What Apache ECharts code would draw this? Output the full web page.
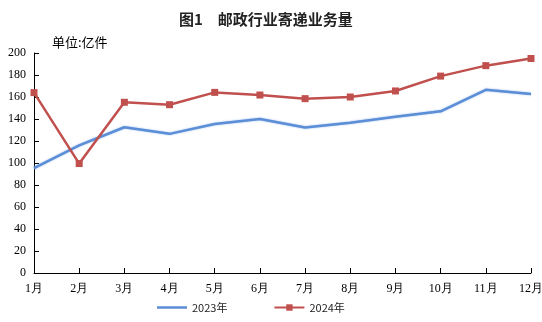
<!DOCTYPE html>
<html><head><meta charset="utf-8">
<script src="https://cdn.jsdelivr.net/npm/echarts@6/dist/echarts.min.js"></script>
<style>html,body{margin:0;padding:0;background:#fff}#c{width:542px;height:322px}</style>
</head><body><div id="c"></div>
<script>
const months = ['1月','2月','3月','4月','5月','6月','7月','8月','9月','10月','11月','12月'];
const s2023 = [95.3, 116, 132.5, 126.5, 135.5, 140, 132.3, 136.5, 142, 147, 166.5, 162.7];
const s2024 = [164, 99.5, 155.2, 153, 164.2, 161.8, 158.5, 160, 165.5, 179, 188.5, 195];
const chart = echarts.init(document.getElementById('c'));
const serif = '"Liberation Serif","Times New Roman",serif';
chart.setOption({
  animation:false,
  title:{text:'图1　邮政行业寄递业务量',left:174,top:7,
    textStyle:{fontFamily:'"Noto Sans CJK SC",sans-serif',fontSize:15,fontWeight:'bold',color:'#222'}},
  grid:{left:34,right:11,top:53,bottom:49,outerBoundsMode:'none',containLabel:false},
  legend:{bottom:4,left:152,itemGap:46,itemWidth:30,itemHeight:8,
    textStyle:{fontFamily:'"Noto Sans CJK SC",sans-serif',fontSize:11,color:'#222'},
    data:[{name:'2023年',icon:'path://M0,0H30V2.5H0Z'},{name:'2024年'}]},
  xAxis:{type:'category',data:months,boundaryGap:false,
    axisLine:{lineStyle:{color:'#000',width:1}},
    axisTick:{inside:true,length:5,lineStyle:{color:'#000'}},
    axisLabel:{fontFamily:serif,fontSize:12,color:'#000',margin:10,interval:0}},
  yAxis:{type:'value',min:0,max:200,interval:20,
    name:'单位:亿件',nameLocation:'end',nameGap:4,
    nameTextStyle:{fontFamily:'"Noto Sans CJK SC",sans-serif',fontSize:13,color:'#000',align:'left',padding:[0,0,0,18]},
    axisLine:{show:true,lineStyle:{color:'#000',width:1}},
    axisTick:{show:true,inside:true,length:5,lineStyle:{color:'#000'}},
    splitLine:{show:false},
    axisLabel:{fontFamily:serif,fontSize:12,color:'#000',margin:8}},
  series:[
    {name:'2023年',type:'line',data:s2023,symbol:'none',
      itemStyle:{color:'#5b8ed6'},
      lineStyle:{color:'#5b8ed6',width:2.5,shadowColor:'rgba(150,185,235,0.9)',shadowBlur:2}},
    {name:'2024年',type:'line',data:s2024,symbol:'rect',symbolSize:7,
      itemStyle:{color:'#c0504d'},
      lineStyle:{color:'#c0504d',width:2.5}}
  ]
});
</script></body></html>
